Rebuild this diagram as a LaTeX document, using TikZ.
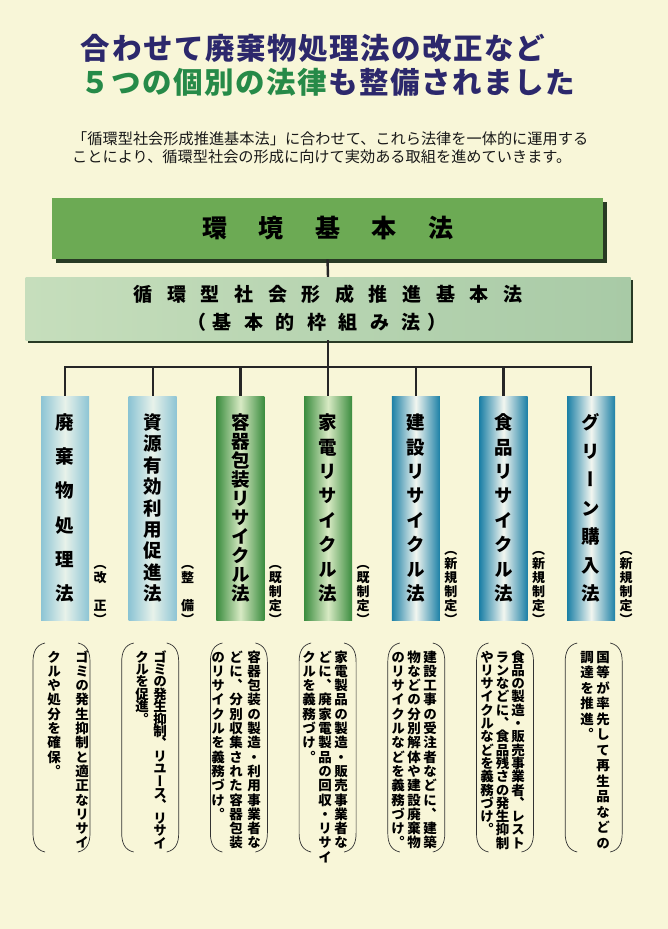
\documentclass[tikz,border=0pt]{standalone}
\usepackage{fontspec}
\usepackage{tikz}
\usetikzlibrary{shadows}

\newfontfamily\jpfont{Noto Sans CJK JP}
\newfontfamily\tatefont[RawFeature=+vert]{Noto Sans CJK JP}

\definecolor{paper}{RGB}{248,246,216}
\definecolor{titlenavy}{RGB}{44,40,108}
\definecolor{titlegreen}{RGB}{38,138,72}
\definecolor{kgreen}{RGB}{108,170,84}
\definecolor{kshadow}{RGB}{40,58,36}
\definecolor{jleft}{RGB}{198,222,188}
\definecolor{jright}{RGB}{168,202,166}
\definecolor{paleedge}{RGB}{140,196,212}
\definecolor{palemid}{RGB}{232,242,234}
\definecolor{greenedge}{RGB}{58,140,62}
\definecolor{greenmid}{RGB}{216,234,196}
\definecolor{tealedge}{RGB}{28,128,166}
\definecolor{tealmid}{RGB}{242,246,240}

\makeatletter
\def\tate@end{\tate@end}
\def\tate@loop#1{\ifx#1\tate@end\else\hbox to1em{\hss\vrule height.88em depth.12em width0pt#1\hss}\expandafter\tate@loop\fi}
\newcommand\tate[2]{\vbox{\baselineskip=#1\lineskiplimit=-\maxdimen\expandafter\tate@loop#2\tate@end}}
\def\yoko@loop#1{\ifx#1\tate@end\else\hbox to\yoko@w{\hss#1\hss}\expandafter\yoko@loop\fi}
\newcommand\yoko[2]{\def\yoko@w{#1}\hbox{\expandafter\yoko@loop#2\tate@end}}
\makeatother

\begin{document}
\begin{tikzpicture}[x=1pt,y=-1pt,
    wire/.style={line width=2.4pt,draw=black!85},
    kbox/.style={fill=kgreen,minimum width=551pt,minimum height=61pt,inner sep=0pt,
        drop shadow={shadow xshift=4pt,shadow yshift=-4pt,fill=kshadow,opacity=1},
        font=\jpfont\bfseries\fontsize{25}{25}\selectfont},
    jbox/.style={left color=jleft,right color=jright,minimum width=605pt,minimum height=63pt,inner sep=0pt,
        drop shadow={shadow xshift=2.5pt,shadow yshift=-2.5pt,fill=kshadow,opacity=1},
        align=center,font=\jpfont\bfseries\fontsize{19}{28}\selectfont},
    lawcol/.style 2 args={left color=#1,right color=#1,middle color=#2,
        minimum width=48pt,minimum height=224pt,inner sep=0pt,
        font=\tatefont\bfseries\fontsize{18.5}{18.5}\selectfont},
    lawnote/.style={anchor=south,inner sep=0pt,font=\tatefont\bfseries\fontsize{13}{13}\selectfont},
    bracket/.style={draw=black!80,line width=0.7pt},
    desc/.style={anchor=north,inner sep=0pt,font=\tatefont\bfseries\fontsize{13.5}{13.5}\selectfont}]

    \fill[paper] (0,0) rectangle (668,929);
    \useasboundingbox (0,0) rectangle (668,929);

    % title and lead text
    \node[anchor=west,inner sep=0pt,text=titlenavy,font=\jpfont\bfseries\fontsize{29.5}{29.5}\selectfont] (title1) at (80,48)
        {\yoko{31.07pt}{合わせて廃棄物処理法の改正など}};
    \node[anchor=west,inner sep=0pt,text=titlenavy,font=\jpfont\bfseries\fontsize{29.5}{29.5}\selectfont] (title2) at (80,82)
        {\textcolor{titlegreen}{\yoko{31pt}{５つの個別の法律}}\yoko{31pt}{も整備されました}};
    \node[anchor=west,inner sep=0pt,align=left,text=black!90,font=\jpfont\fontsize{15.2}{18}\selectfont] (lead) at (72,148)
        {「循環型社会形成推進基本法」に合わせて、これら法律を一体的に運用する\\ことにより、循環型社会の形成に向けて実効ある取組を進めていきます。};

    % upper laws
    \node[kbox] (kihon) at (327.5,228.5) {\yoko{56.5pt}{環境基本法}};
    \node[jbox] (junkan) at (328,308.5)
        {\yoko{33.6pt}{循環型社会形成推進基本法}\\（\yoko{31.5pt}{基本的枠組み法}）\hspace*{22pt}};

    \coordinate (bar) at (328,367);
    \draw[wire] (kihon.south) -- (junkan.north);
    \draw[wire] (junkan.south) -- (bar);

    % individual laws
    \foreach \i/\ec/\mc/\name/\st/\note in {
        1/paleedge/palemid/廃棄物処理法/34.2/（改　正）,
        2/paleedge/palemid/資源有効利用促進法/21.4/（整　備）,
        3/greenedge/greenmid/容器包装リサイクル法/19/（既制定）,
        4/greenedge/greenmid/家電リサイクル法/24.4/（既制定）,
        5/tealedge/tealmid/建設リサイクル法/24.4/（新規制定）,
        6/tealedge/tealmid/食品リサイクル法/24.4/（新規制定）,
        7/tealedge/tealmid/グリーン購入法/28.5/（新規制定）}
    {
        \draw[wire] ({65+87.7*(\i-1)},396) |- (bar);
        \node[lawcol={\ec}{\mc}] (c\i) at ({65+87.7*(\i-1)},508) {\tate{\st pt}{\name}};
        \node[lawnote] (n\i) at ({100+87.7*(\i-1)},626) {\tate{14pt}{\note}};
    }

    % descriptions
    \foreach \i/\fx/\st/\sep/\lines in {
        1/82/14.3/28/{ゴミの発生抑制と適正なリサイ,クルや処分を確保。},
        2/160/12.4/18/{ゴミの発生抑制、リユース、リサイ,クルを促進。},
        3/254/14.3/18/{容器包装の製造・利用事業者な,どに、分別収集された容器包装,のリサイクルを義務づけ。},
        4/341/14.3/16/{家電製品の製造・販売事業者な,どに、廃家電製品の回収・リサイ,クルを義務づけ。},
        5/430/14.3/16/{建設工事の受注者などに、建築,物などの分別解体や建設廃棄物,のリサイクルなどを義務づけ。},
        6/518/13.3/15.5/{食品の製造・販売事業者、レスト,ランなどに、食品残さの発生抑制,やリサイクルなどを義務づけ。},
        7/603/15.5/16/{国等が率先して再生品などの,調達を推進。}}
    {
        \pgfmathsetmacro\bx{33+88.7*(\i-1)}
        \draw[bracket] (\bx+12,643) .. controls (\bx+3,645) and (\bx,652) .. (\bx,662)
            -- (\bx,833) .. controls (\bx,843) and (\bx+3,850) .. (\bx+12,852);
        \draw[bracket] (\bx+45,643) .. controls (\bx+54,645) and (\bx+57,652) .. (\bx+57,662)
            -- (\bx+57,833) .. controls (\bx+57,843) and (\bx+54,850) .. (\bx+45,852);
        \foreach \ln [count=\k] in \lines
            \node[desc] (d\i-\k) at ({\fx-(\k-1)*\sep},650) {\tate{\st pt}{\ln}};
    }
\end{tikzpicture}
\end{document}
